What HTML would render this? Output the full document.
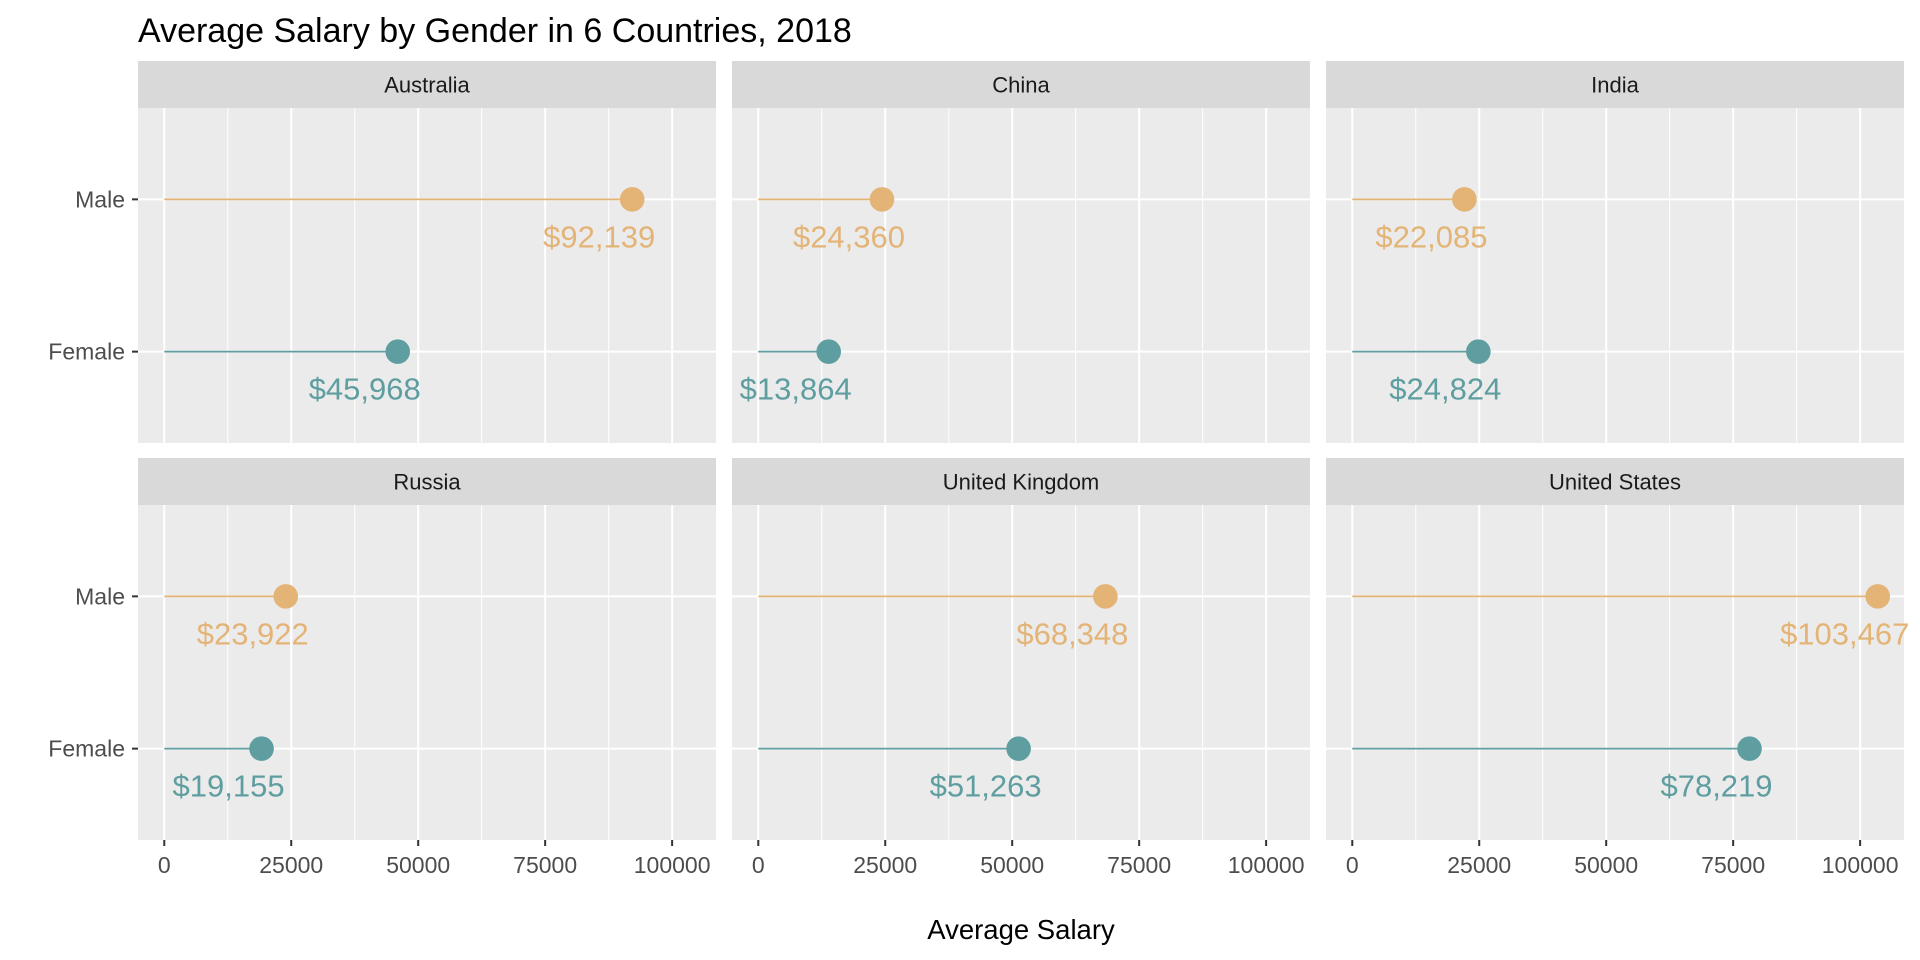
<!DOCTYPE html>
<html><head><meta charset="utf-8"><style>
html,body{margin:0;padding:0;background:#fff;width:1920px;height:960px;overflow:hidden}
svg{display:block;font-family:"Liberation Sans",Arial,sans-serif}
</style></head><body>
<svg id="chart" width="1920" height="960" viewBox="0 0 1920 960" xmlns="http://www.w3.org/2000/svg">
<text x="138" y="42" font-size="34" fill="#000">Average Salary by Gender in 6 Countries, 2018</text>
<text x="1021" y="939" font-size="27.5" text-anchor="middle" fill="#000">Average Salary</text>
<g id="panels"></g>
</svg>
<script>
const countries = ["Australia","China","India","Russia","United Kingdom","United States"];
const maleValues = [92139,24360,22085,23922,68348,103467];
const femaleValues = [45968,13864,24824,19155,51263,78219];
const genders = ["Male","Female"];
const xTicks = [0,25000,50000,75000,100000];
const xMinor = [12500,37500,62500,87500];

const NS="http://www.w3.org/2000/svg";
const root=document.getElementById('panels');
const panelLeft=[138,732,1326], panelW=578;
const rowTop=[61,458], stripH=47, bodyH=335;
const xMin=-5173.35, xMax=108640.35;
const maleCol="#E3B476", femCol="#5F9EA0";
function mk(tag,attrs,parent){const e=document.createElementNS(NS,tag);for(const k in attrs)e.setAttribute(k,attrs[k]);(parent||root).appendChild(e);return e;}
function fmt(v){return "$"+v.toLocaleString("en-US");}

countries.forEach((c,i)=>{
  const col=i%3,row=Math.floor(i/3);
  const L=panelLeft[col], T=rowTop[row], B=T+stripH, Bot=B+bodyH;
  const xs=v=>L+(v-xMin)/(xMax-xMin)*panelW;
  const ys=k=>Bot-(k-0.4)/2.2*bodyH;
  const g=mk('g',{});
  
  
  const strip=mk('rect',{x:L,y:T,width:panelW,height:stripH,fill:"#D9D9D9"},g);
  
  
  const st=mk('text',{x:L+panelW/2,y:T+stripH/2+8,'font-size':22,'text-anchor':'middle',fill:'#1A1A1A'},g);
  st.textContent=c;
  
  
  const bg=mk('rect',{x:L,y:B,width:panelW,height:bodyH,fill:"#EBEBEB"},g);
  
  
  xMinor.forEach(v=>{const l=mk('line',{x1:xs(v),x2:xs(v),y1:B,y2:Bot,stroke:'#fff','stroke-width':1},g);
    });
  xTicks.forEach(v=>{const l=mk('line',{x1:xs(v),x2:xs(v),y1:B,y2:Bot,stroke:'#fff','stroke-width':2},g);
    });
  [2,1].forEach(k=>{const l=mk('line',{x1:L,x2:L+panelW,y1:ys(k),y2:ys(k),stroke:'#fff','stroke-width':2},g);
    });
  if(row===1){
    xTicks.forEach(v=>{
      const t=mk('line',{x1:xs(v),x2:xs(v),y1:Bot,y2:Bot+6,stroke:'#333','stroke-width':2},g);
      
      const tl=mk('text',{x:xs(v),y:Bot+33,'font-size':23,'text-anchor':'middle',fill:'#4D4D4D'},g);
      tl.textContent=String(v);
      
    });
  }
  if(col===0){
    genders.forEach((gn,j)=>{const k=j===0?2:1;
      const t=mk('line',{x1:L-6,x2:L,y1:ys(k),y2:ys(k),stroke:'#333','stroke-width':2},g);
      
      const tl=mk('text',{x:L-13,y:ys(k)+8,'font-size':23,'text-anchor':'end',fill:'#4D4D4D'},g);
      tl.textContent=gn;
      
    });
  }
  [[maleValues[i],2,maleCol,'male'],[femaleValues[i],1,femCol,'female']].forEach(([v,k,colr,nm])=>{
    const y=ys(k);
    const seg=mk('line',{x1:xs(0),x2:xs(v),y1:y,y2:y,stroke:colr,'stroke-width':1.8},g);
    
    const pt=mk('circle',{cx:xs(v),cy:y,r:12.3,fill:colr},g);
    
    const lb=mk('text',{x:xs(v)-33,y:y+48,'font-size':31,'text-anchor':'middle',fill:colr},g);
    lb.textContent=fmt(v);
    
  });
});
</script>
</body></html>
